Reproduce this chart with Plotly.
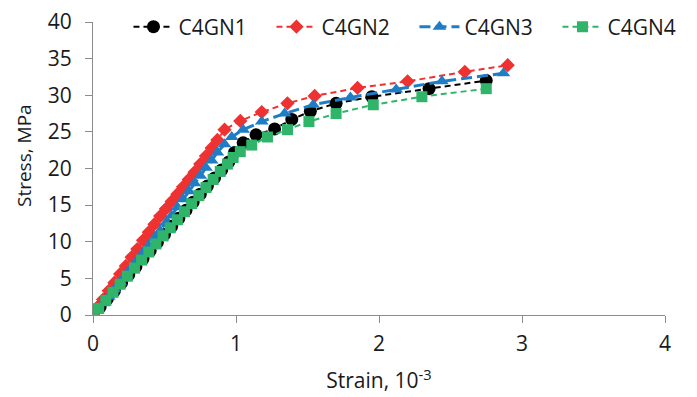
import plotly.graph_objects as go

# Strain (x 10^-3) and stress (MPa) for each specimen
strain_c4gn1 = [0, 0.05, 0.10, 0.15, 0.20, 0.25, 0.30, 0.35, 0.40, 0.45, 0.50, 0.55, 0.60, 0.65,
                0.70, 0.75, 0.80, 0.85, 0.90, 0.95, 0.99, 1.05, 1.14, 1.27, 1.39, 1.52, 1.70,
                1.95, 2.35, 2.75]
stress_c4gn1 = [0, 1.1, 2.2, 3.3, 4.4, 5.5, 6.6, 7.7, 8.8, 9.9, 11.0, 12.1, 13.2, 14.3,
                15.4, 16.5, 17.6, 18.7, 19.8, 20.9, 22.2, 23.5, 24.6, 25.4, 26.7, 27.8, 28.9,
                29.8, 30.9, 32.0]

strain_c4gn2 = [0, 0.03, 0.07, 0.11, 0.15, 0.19, 0.23, 0.27, 0.31, 0.35, 0.39, 0.43, 0.47, 0.51,
                0.55, 0.59, 0.63, 0.67, 0.71, 0.75, 0.79, 0.83, 0.87, 0.92, 1.03, 1.18, 1.36,
                1.55, 1.85, 2.20, 2.60, 2.90]
stress_c4gn2 = [0, 1.0, 2.1, 3.3, 4.4, 5.6, 6.7, 7.9, 9.0, 10.2, 11.3, 12.4, 13.5, 14.5,
                15.5, 16.5, 17.5, 18.5, 19.5, 20.6, 21.7, 22.8, 23.9, 25.3, 26.5, 27.7, 28.9,
                29.9, 31.0, 31.9, 33.2, 34.1]

strain_c4gn3 = [0, 0.03, 0.07, 0.11, 0.15, 0.19, 0.23, 0.27, 0.31, 0.35, 0.39, 0.43, 0.47, 0.51,
                0.55, 0.59, 0.63, 0.67, 0.71, 0.75, 0.79, 0.83, 0.87, 0.92, 0.97, 1.05, 1.18,
                1.34, 1.54, 1.80, 2.12, 2.44, 2.87]
stress_c4gn3 = [0, 0.7, 1.6, 2.5, 3.5, 4.5, 5.5, 6.5, 7.5, 8.5, 9.5, 10.5, 11.5, 12.6,
                13.6, 14.7, 15.8, 16.9, 18.0, 19.0, 20.1, 21.1, 22.2, 23.3, 24.3, 25.3, 26.4,
                27.5, 28.7, 29.7, 30.8, 31.9, 33.0]

strain_c4gn4 = [0, 0.04, 0.09, 0.14, 0.19, 0.24, 0.29, 0.34, 0.39, 0.44, 0.49, 0.54, 0.59, 0.64,
                0.69, 0.74, 0.79, 0.84, 0.89, 0.94, 0.98, 1.03, 1.11, 1.22, 1.36, 1.51, 1.70,
                1.96, 2.30, 2.75]
stress_c4gn4 = [0, 0.9, 2.0, 3.1, 4.2, 5.3, 6.4, 7.5, 8.6, 9.7, 10.8, 11.9, 13.0, 14.1,
                15.2, 16.3, 17.4, 18.5, 19.6, 20.6, 21.5, 22.3, 23.2, 24.3, 25.3, 26.4, 27.5,
                28.7, 29.8, 30.9]

x_ticks = [0, 1, 2, 3, 4]
y_ticks = [0, 5, 10, 15, 20, 25, 30, 35, 40]

FONT = "Open Sans"
FSIZE = 21
TEXT = "#1a1a1a"
AXIS = "#8c8c8c"

series = [
    ("C4GN1", strain_c4gn1, stress_c4gn1, "#000000", "circle", 13, 2, "6px,4px"),
    ("C4GN2", strain_c4gn2, stress_c4gn2, "#ee3131", "diamond", 11, 2, "6px,4px"),
    ("C4GN3", strain_c4gn3, stress_c4gn3, "#1f7dc6", "triangle-up", 12, 3, "11px,5px"),
    ("C4GN4", strain_c4gn4, stress_c4gn4, "#2fb46a", "square", 11, 2, "6px,4px"),
]

fig = go.Figure()
for name, xs, ys, color, symbol, msize, lw, dash in series:
    fig.add_trace(go.Scatter(
        x=xs, y=ys, name=name, mode="lines+markers",
        line=dict(color=color, width=lw, dash=dash),
        marker=dict(symbol=symbol, size=msize, color=color, line=dict(width=0)),
    ))

axis_common = dict(
    showgrid=False, zeroline=False, showline=True, linecolor=AXIS, linewidth=1,
    ticks="outside", ticklen=7, tickcolor=AXIS, tickwidth=1,
    tickfont=dict(family=FONT, size=FSIZE, color=TEXT),
)

fig.update_layout(
    width=697, height=397,
    margin=dict(l=93, r=32, t=22, b=82, autoexpand=False),
    paper_bgcolor="white", plot_bgcolor="white",
    font=dict(family=FONT, color=TEXT),
    xaxis=dict(range=[0, 4], tickvals=x_ticks, ticklabelstandoff=3,
               title=dict(text="Strain, 10<sup>-3</sup>", font=dict(family=FONT, size=FSIZE, color=TEXT), standoff=17),
               **axis_common),
    yaxis=dict(range=[0, 40], tickvals=y_ticks, ticklabelstandoff=9, **axis_common),
    # second pair of axes supplies the inner half of the crossing tick marks
    xaxis2=dict(overlaying="x", anchor="y", side="bottom", range=[0, 4], tickvals=x_ticks,
                showticklabels=False, showgrid=False, zeroline=False, showline=False,
                ticks="inside", ticklen=7, tickcolor=AXIS, tickwidth=1),
    yaxis2=dict(overlaying="y", anchor="x", side="left", range=[0, 40], tickvals=y_ticks,
                showticklabels=False, showgrid=False, zeroline=False, showline=False,
                ticks="inside", ticklen=7, tickcolor=AXIS, tickwidth=1),
    legend=dict(orientation="h", x=0.062, xanchor="left", y=0.983, yanchor="middle",
                entrywidth=88, entrywidthmode="pixels",
                font=dict(family=FONT, size=FSIZE, color=TEXT), bgcolor="rgba(0,0,0,0)",
                itemwidth=40),
    annotations=[dict(
        text="Stress, MPa", textangle=-90, showarrow=False,
        xref="paper", yref="paper", x=(24 - 93) / 572, y=(315 - 156) / 293,
        xanchor="center", yanchor="middle",
        font=dict(family=FONT, size=19, color=TEXT),
    )],
    showlegend=True,
)

fig.write_html("out.html")
